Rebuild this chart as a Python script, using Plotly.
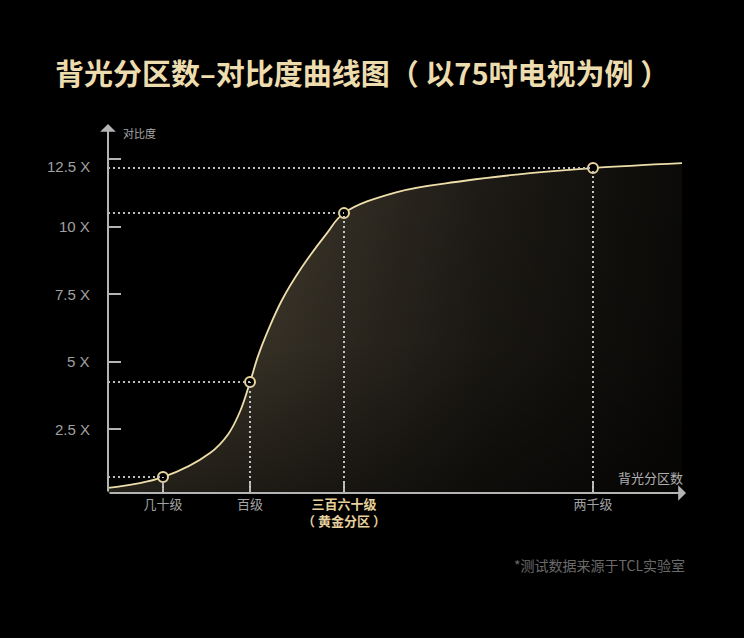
import plotly.graph_objects as go

# ---- data ----
levels = ["几十级", "百级", "三百六十级", "两千级"]
level_pos = [0.55, 1.42, 2.36, 4.85]
level_contrast = [0.72, 4.24, 10.50, 12.17]

curve_x = [0.00, 0.55, 1.02, 1.20, 1.32, 1.42, 1.50, 1.59, 1.74, 1.94, 2.19, 2.36, 2.89, 3.55, 4.22, 4.85, 5.74]
curve_y = [0.32, 0.72, 1.61, 2.30, 3.15, 4.24, 5.20, 6.06, 7.28, 8.50, 9.76, 10.50, 11.28, 11.69, 11.98, 12.17, 12.35]

y_tick_vals = [2.5, 5, 7.5, 10, 12.5]
y_tick_text = ["2.5 X", "5 X", "7.5 X", "10 X", "12.5 X"]

title_text = "背光分区数–对比度曲线图（ 以75吋电视为例 ）"
x_title = "背光分区数"
y_title = "对比度"
footnote = "*测试数据来源于TCL实验室"

X_MIN, X_MAX = 0.0, 5.82
Y_MIN, Y_MAX = 0.13, 13.95

CJK = "Noto Sans CJK SC"
GOLD = "#ecdcae"
AXIS = "#b4b4b4"
SMOOTH = 1.1

fig = go.Figure()

# fill with horizontal gradient
fig.add_trace(go.Scatter(
    x=curve_x, y=curve_y, mode="lines", line=dict(width=0, shape="spline", smoothing=SMOOTH),
    fill="tozeroy",
    fillgradient=dict(type="horizontal",
                      colorscale=[[0, "#4f4838"], [0.3, "#3c362a"], [0.65, "#1e1b16"], [1, "#0b0a08"]]),
    hoverinfo="skip", showlegend=False))
# darkening overlay towards bottom
fig.add_trace(go.Scatter(
    x=curve_x, y=curve_y, mode="lines", line=dict(width=0, shape="spline", smoothing=SMOOTH),
    fill="tozeroy",
    fillgradient=dict(type="vertical",
                      colorscale=[[0, "rgba(0,0,0,0.55)"], [0.45, "rgba(0,0,0,0.15)"], [1, "rgba(0,0,0,0)"]]),
    hoverinfo="skip", showlegend=False))

# dotted guides
for xp, yp in zip(level_pos, level_contrast):
    fig.add_shape(type="line", x0=X_MIN, x1=xp, y0=yp, y1=yp, xref="x", yref="y",
                  line=dict(color="#bdbdbd", width=2, dash="2px,3px"), layer="above")
    fig.add_shape(type="line", x0=xp, x1=xp, y0=Y_MIN, y1=yp, xref="x", yref="y",
                  line=dict(color="#c4c4c4", width=2, dash="2px,3px"), layer="above")

# curve
fig.add_trace(go.Scatter(
    x=curve_x, y=curve_y, mode="lines",
    line=dict(color="#eedfaa", width=1.8, shape="spline", smoothing=SMOOTH),
    hoverinfo="skip", showlegend=False))

# markers
fig.add_trace(go.Scatter(
    x=level_pos, y=level_contrast, mode="markers",
    marker=dict(size=10, color="#000000", line=dict(color="#e9d69c", width=2)),
    hoverinfo="skip", showlegend=False, cliponaxis=False))

tick_text = []
for lv in levels:
    if lv == "三百六十级":
        tick_text.append("<span style='color:#e6d09c'><b>%s</b></span><br><span style='color:#e6d09c'><b>（ 黄金分区 ）</b></span>" % lv)
    else:
        tick_text.append(lv)

fig.update_layout(
    width=744, height=638, autosize=False,
    paper_bgcolor="#000000", plot_bgcolor="#000000",
    margin=dict(l=108, r=54, t=120, b=145),
    font=dict(family=CJK, color="#a0a0a0", size=13),
    title=dict(text="<b>%s</b>" % title_text, x=55 / 744, xanchor="left", xref="container",
               y=1 - 75 / 638, yanchor="middle", yref="container",
               font=dict(family=CJK, size=29, color=GOLD)),
    xaxis=dict(range=[X_MIN, X_MAX], showgrid=False, zeroline=False, showline=False,
               tickmode="array", tickvals=level_pos, ticktext=tick_text,
               ticks="inside", ticklen=11, tickwidth=2, tickcolor=AXIS,
               tickfont=dict(family=CJK, size=13, color="#a3a3a3"), ticklabelstandoff=2),
    yaxis=dict(range=[Y_MIN, Y_MAX], showgrid=False, zeroline=False, showline=False,
               tickmode="array", tickvals=y_tick_vals, ticktext=[""] * len(y_tick_vals),
               ticks="inside", ticklen=13, tickwidth=2, tickcolor=AXIS),
)

# y tick labels (the top one sits on its guide line in the reference)
for v, t in zip(y_tick_vals, y_tick_text):
    fig.add_annotation(x=-16 / 582, y=v, xref="paper", yref="y", text=t, showarrow=False,
                       xanchor="right", yanchor="middle", yshift=(-7 if v == max(y_tick_vals) else 0),
                       font=dict(family="Liberation Sans", size=15, color="#a0a0a0"))

# axis lines with arrows
fig.add_annotation(x=X_MAX - 0.04, y=Y_MIN, ax=X_MIN, ay=Y_MIN, xref="x", yref="y", axref="x", ayref="y",
                   text="", showarrow=True, arrowhead=1, arrowsize=1.3, arrowwidth=2, arrowcolor=AXIS)
fig.add_annotation(x=X_MIN, y=13.80, ax=X_MIN, ay=Y_MIN, xref="x", yref="y", axref="x", ayref="y",
                   text="", showarrow=True, arrowhead=1, arrowsize=1.3, arrowwidth=2, arrowcolor=AXIS)

# axis titles
fig.add_annotation(x=0.13, y=13.46, xref="x", yref="y", text=y_title, showarrow=False,
                   xanchor="left", yanchor="middle", font=dict(family=CJK, size=11, color="#a8a8a8"))
fig.add_annotation(x=5.77, y=0.69, xref="x", yref="y", text=x_title, showarrow=False,
                   xanchor="right", yanchor="middle", font=dict(family=CJK, size=13, color="#b0b0b0"))

# footnote
fig.add_annotation(x=(687 - 108) / 582, y=(493 - 565) / 373, xref="paper", yref="paper", text=footnote,
                   showarrow=False, xanchor="right", yanchor="middle",
                   font=dict(family=CJK, size=14, color="#6a6a6a"))

fig.write_html("out.html", config={"displayModeBar": False},
               post_script="document.body.style.margin='0';document.body.style.backgroundColor='#000';")
